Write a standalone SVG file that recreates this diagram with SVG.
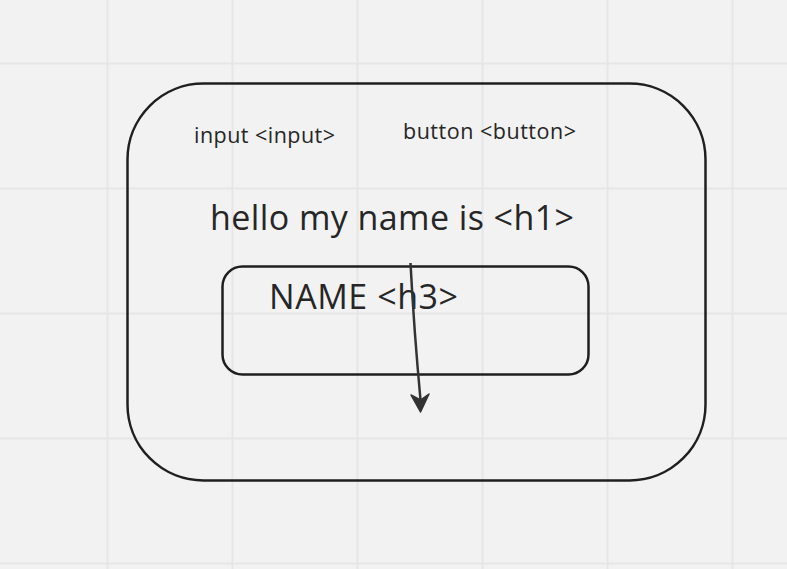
<svg xmlns="http://www.w3.org/2000/svg" width="787" height="569" viewBox="0 0 787 569">
<defs>
<style>
.grid{stroke:#e6e6e6;stroke-width:2;fill:none}
.box{fill:none;stroke:#1f1f1f;stroke-width:2.5}
.t{font-family:"Open Sans","Noto Sans",sans-serif;fill:#262626}
.conn{fill:none;stroke:#333;stroke-width:2.5}
</style>
</defs>
<rect width="787" height="569" fill="#f2f2f2"/>
<g id="grid" class="grid">
<path d="M107.5 0V569M232.5 0V569M357.5 0V569M482.5 0V569M607.5 0V569M732.5 0V569M0 63.5H787M0 188.5H787M0 313.5H787M0 438.5H787M0 563.5H787"/>
</g>
<g id="outer">
<rect class="box" x="127.5" y="83.5" width="578" height="397" rx="76" ry="76"/>
</g>
<g id="input-label"><text class="t" x="194" y="143" font-size="21.5" textLength="141" lengthAdjust="spacing">input &lt;input&gt;</text></g>
<g id="button-label"><text class="t" x="403" y="139" font-size="21.5" textLength="173" lengthAdjust="spacing">button &lt;button&gt;</text></g>
<g id="h1-label"><text class="t" x="210" y="230" font-size="34" textLength="364" lengthAdjust="spacing">hello my name is &lt;h1&gt;</text></g>
<g id="inner">
<rect class="box" x="222.5" y="266.5" width="366" height="108" rx="20" ry="20"/>
<text class="t" x="269" y="309" font-size="34" textLength="189" lengthAdjust="spacing">NAME &lt;h3&gt;</text>
</g>
<g id="connectors">
<path class="conn" d="M410.5 263 Q414 330 420.5 400"/>
<path d="M420.5 412 L429 394 L420.5 400 L411 395 Z" fill="#333" stroke="#333" stroke-width="1.5" stroke-linejoin="round"/>
</g>
</svg>
